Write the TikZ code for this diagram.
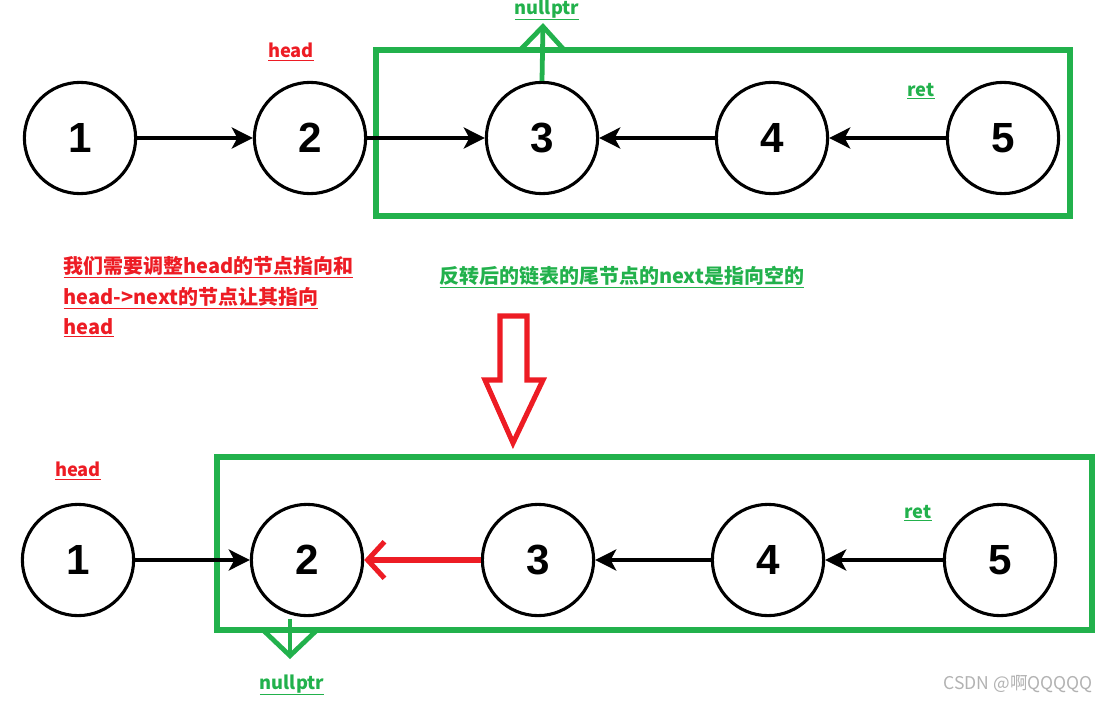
\documentclass[tikz,border=0pt]{standalone}
\usepackage{fontspec}
\setmainfont{Liberation Sans}
\newfontfamily\cjk{Noto Sans CJK SC}
\usetikzlibrary{arrows.meta,positioning,calc}
\definecolor{paintred}{RGB}{237,28,36}
\definecolor{paintgreen}{RGB}{34,177,76}

\begin{document}
\begin{tikzpicture}[x=0.025cm, y=-0.025cm,
    elem/.style={circle, draw, line width=2.2pt, minimum size=2.78cm,
                 inner sep=0pt, font=\fontsize{30}{30}\selectfont\bfseries},
    link/.style={-{Stealth[length=15pt, width=15pt, inset=4pt]}, line width=2.3pt},
    box/.style={draw=paintgreen, line width=3.6pt},
    tag/.style={font=\cjk\bfseries\fontsize{13}{13}\selectfont, inner sep=1pt},
    nullarrow/.style={-{Straight Barb[length=16pt, width=30pt]},
                      paintgreen, line width=3.4pt}]
    \useasboundingbox (0,0) rectangle (1100,703);

    % Before: list 1 -> 2 -> 3 <- 4 <- 5
    \foreach \i/\x in {1/80,2/310,3/542,4/772,5/1003} {
        \node[elem] (t\i) at (\x,138) {\i};
    }
    \draw[box] (376,50) rectangle (1070,216);
    \draw[link] (t1) -- (t2);
    \draw[link] (t2) -- (t3);
    \draw[link] (t4) -- (t3);
    \draw[link] (t5) -- (t4);
    \coordinate (tnull) at (543,23);
    \draw[nullarrow] (t3.north) -- (tnull);

    % Labels
    \node[tag, text=paintgreen] (tnulltxt) at (547,10) {\underline{nullptr}};
    \node[tag, text=paintred] (thead) at (291,52) {\underline{head}};
    \node[tag, text=paintgreen] (tret) at (921,91) {\underline{ret}};

    % Notes
    \node[tag, text=paintred, anchor=west, align=left,
          font=\cjk\bfseries\fontsize{14.2}{21.5}\selectfont] (rednote) at (62,297)
        {\underline{我们需要调整head的节点指向和}\\
         \underline{head->next的节点让其指向}\\
         \underline{head}};
    \node[tag, text=paintgreen, anchor=west,
          font=\cjk\bfseries\fontsize{14.2}{14.2}\selectfont] (greennote) at (438,277)
        {\underline{反转后的链表的尾节点的next是指向空的}};

    % Big hollow arrow
    \draw[paintred, line width=3.6pt, line join=miter]
        (500,316) -- (527,316) -- (527,380) -- (543,380) -- (513,443)
        -- (485,380) -- (500,380) -- cycle;

    % After: list 1 -> 2 <- 3 <- 4 <- 5
    \foreach \i/\x in {1/78,2/307,3/538,4/768,5/1000} {
        \node[elem] (b\i) at (\x,560) {\i};
    }
    \draw[box] (217,457) rectangle (1092,630);
    \draw[link] (b1) -- (b2);
    \draw[-{Straight Barb[length=12pt, width=26pt]}, paintred, line width=3.6pt]
        (b3) -- (b2);
    \draw[link] (b4) -- (b3);
    \draw[link] (b5) -- (b4);
    \coordinate (bnull) at (290,659);
    \draw[nullarrow, -{Straight Barb[length=19pt, width=40pt]}]
        ($(b2.south)+(-17,2)$) -- (bnull);

    % Labels
    \node[tag, text=paintgreen] (bnulltxt) at (292,685) {\underline{nullptr}};
    \node[tag, text=paintred] (bhead) at (78,471) {\underline{head}};
    \node[tag, text=paintgreen] (bret) at (918,513) {\underline{ret}};

    % Watermark
    \node[anchor=east, text=black!30, font=\cjk\fontsize{12.5}{12.5}\selectfont]
        (mark) at (1098,684) {CSDN @啊QQQQQ};
\end{tikzpicture}
\end{document}
